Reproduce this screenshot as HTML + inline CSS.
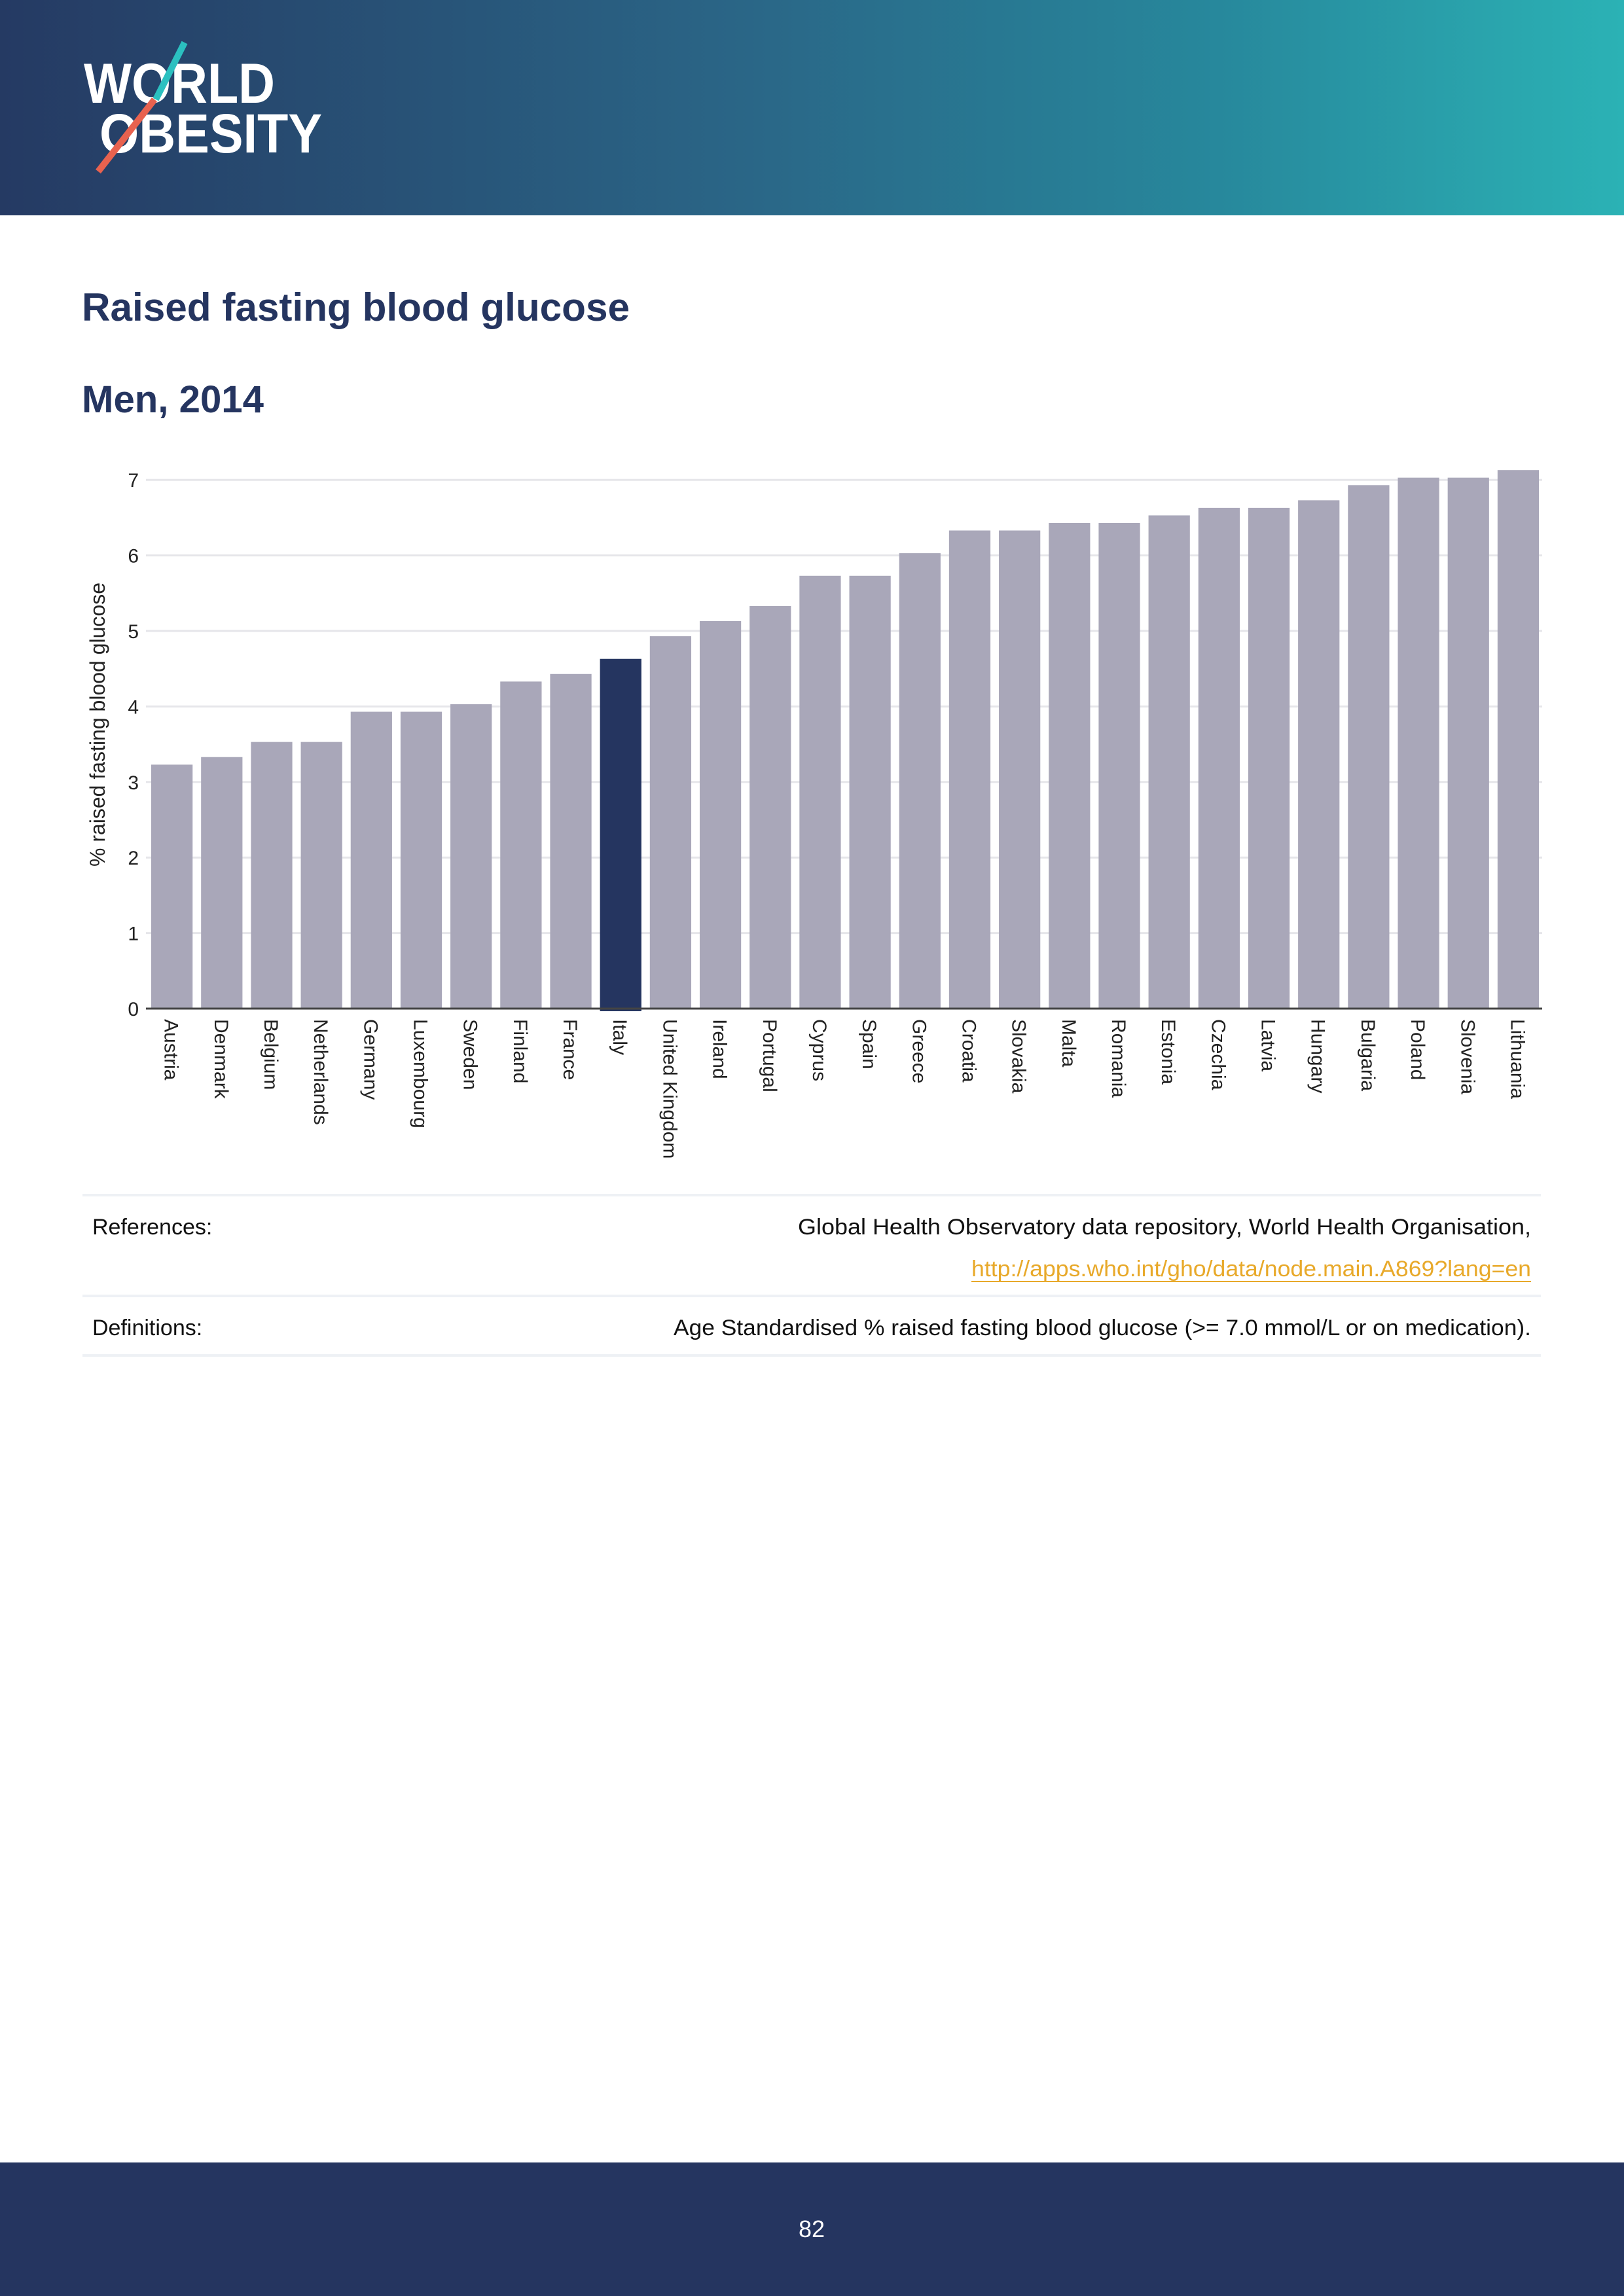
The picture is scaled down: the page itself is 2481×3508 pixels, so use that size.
<!DOCTYPE html>
<html><head><meta charset="utf-8"><style>
html,body{margin:0;padding:0;background:#fff}
svg{display:block}
text{font-family:"Liberation Sans",sans-serif}
</style></head><body>
<svg id="page" width="2481" height="3508" viewBox="0 0 2481 3508" xmlns="http://www.w3.org/2000/svg">
<defs>
<linearGradient id="hg" x1="0" y1="0" x2="1" y2="0">
<stop offset="0" stop-color="#253a63"/><stop offset="0.45" stop-color="#2a6586"/><stop offset="0.75" stop-color="#27889c"/><stop offset="1" stop-color="#2bb2b5"/>
</linearGradient>
</defs>
<g>
<rect x="0" y="0" width="2481" height="329" fill="url(#hg)"/>
<g>
<text x="128" y="157" font-size="86" font-weight="bold" fill="#fff" textLength="292" lengthAdjust="spacingAndGlyphs">WORLD</text>
<text x="152" y="233" font-size="84" font-weight="bold" fill="#fff" textLength="340" lengthAdjust="spacingAndGlyphs">OBESITY</text>
<line x1="282" y1="65" x2="238" y2="152" stroke="#2bc0c0" stroke-width="10"/>
<line x1="236" y1="152" x2="150" y2="262" stroke="#e8624f" stroke-width="10"/>
</g>
</g>
<text x="125" y="490" font-size="60" font-weight="bold" fill="#253560" textLength="837" lengthAdjust="spacingAndGlyphs">Raised fasting blood glucose</text>
<text x="125" y="630" font-size="58" font-weight="bold" fill="#253560" textLength="278" lengthAdjust="spacingAndGlyphs">Men, 2014</text>
<g id="chart"></g>
<g>
<rect x="126" y="1824" width="2228" height="4" fill="#eef1f5"/>
<rect x="126" y="1978" width="2228" height="4" fill="#eef1f5"/>
<rect x="126" y="2069" width="2228" height="4" fill="#eef1f5"/>
<text x="141" y="1886" font-size="34" fill="#111">References:</text>
<text x="2339" y="1886" font-size="34" fill="#111" text-anchor="end" textLength="1120" lengthAdjust="spacingAndGlyphs">Global Health Observatory data repository, World Health Organisation,</text>
<text x="2339" y="1950" font-size="34" fill="#e8a92a" text-anchor="end" textLength="855" lengthAdjust="spacingAndGlyphs">http://apps.who.int/gho/data/node.main.A869?lang=en</text>
<line x1="1484" y1="1958" x2="2339" y2="1958" stroke="#e8a92a" stroke-width="2"/>
<text x="141" y="2040" font-size="34" fill="#111">Definitions:</text>
<text x="2339" y="2040" font-size="34" fill="#111" text-anchor="end" textLength="1310" lengthAdjust="spacingAndGlyphs">Age Standardised % raised fasting blood glucose (&gt;= 7.0 mmol/L or on medication).</text>
</g>
<g>
<rect x="0" y="3304" width="2481" height="204" fill="#253560"/>
<text x="1240" y="3418" font-size="36" fill="#fff" text-anchor="middle">82</text>
</g>
</svg>
<script>
const categories = ["Austria","Denmark","Belgium","Netherlands","Germany","Luxembourg","Sweden","Finland","France","Italy","United Kingdom","Ireland","Portugal","Cyprus","Spain","Greece","Croatia","Slovakia","Malta","Romania","Estonia","Czechia","Latvia","Hungary","Bulgaria","Poland","Slovenia","Lithuania"];
const values = [3.23,3.33,3.53,3.53,3.93,3.93,4.03,4.33,4.43,4.63,4.93,5.13,5.33,5.73,5.73,6.03,6.33,6.33,6.43,6.43,6.53,6.63,6.63,6.73,6.93,7.03,7.03,7.13];
const highlight = ["Italy"];
const yTicks = [0,1,2,3,4,5,6,7];
const yTitle = "% raised fasting blood glucose";

const NS = "http://www.w3.org/2000/svg";
const g = document.getElementById('chart');
const X0 = 223, X1 = 2356, Y0 = 1541, UNIT = 115.4;
const pitch = (X1 - X0) / categories.length;
const bw = pitch * 0.83;
const yS = v => Y0 - v * UNIT;
const xS = i => X0 + 8 + i * pitch;
function mk(tag, attrs){const e=document.createElementNS(NS,tag);for(const k in attrs)e.setAttribute(k,attrs[k]);g.appendChild(e);return e;}
yTicks.forEach(t=>{
  const l = mk('line',{x1:X0,x2:X1,y1:yS(t),y2:yS(t),stroke:'#e6e6ea','stroke-width':3});
  
  
  const tx = mk('text',{x:212,y:yS(t)+11,'font-size':30,fill:'#222','text-anchor':'end'});
  tx.textContent = t;
  
  
});
categories.forEach((c,i)=>{
  const hi = highlight.includes(c);
  const r = mk('rect',{x:xS(i),y:yS(values[i]),width:bw,height:values[i]*UNIT+(hi?4:0),fill:hi?'#253560':'#a9a7b9'});
  
  
  const cx = xS(i) + bw/2;
  const t = mk('text',{x:0,y:0,'font-size':30,fill:'#222',transform:`translate(${cx-11},1557) rotate(90)`});
  t.textContent = c;
  
  
});
const ax = mk('line',{x1:X0,x2:X1,y1:Y0,y2:Y0,stroke:'#444','stroke-width':3});


const yt = mk('text',{x:0,y:0,'font-size':32,fill:'#222','text-anchor':'middle',transform:'translate(160,1107) rotate(-90)'});
yt.textContent = yTitle;


</script>
</body></html>
